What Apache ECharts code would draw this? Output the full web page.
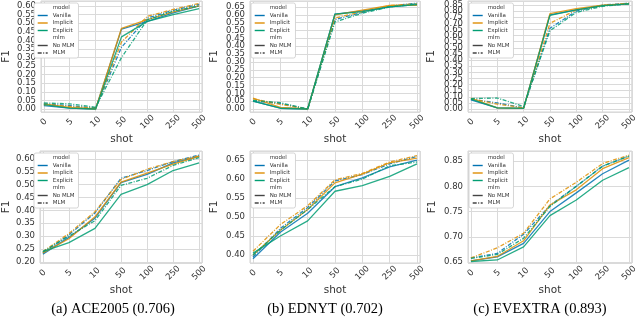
<!DOCTYPE html>
<html>
<head>
<meta charset="utf-8">
<script src="https://cdn.jsdelivr.net/npm/echarts@6/dist/echarts.min.js"></script>
<style>
  html, body { margin: 0; padding: 0; background: #fff; }
  #chart { width: 640px; height: 320px; }
</style>
</head>
<body>
<div id="chart"></div>
<script>
var shots = ['0', '5', '10', '50', '100', '250', '500'];
var models = ['Vanilla', 'Implicit', 'Explicit'];
var mlms = ['No MLM', 'MLM'];
var captions = ['(a) ACE2005 (0.706)', '(b) EDNYT (0.702)', '(c) EVEXTRA (0.893)'];

// rows: Vanilla/No MLM, Vanilla/MLM, Implicit/No MLM, Implicit/MLM, Explicit/No MLM, Explicit/MLM
var aceTop = [
  [0.020, 0.005, 0.000, 0.465, 0.510, 0.560, 0.600],
  [0.030, 0.020, 0.005, 0.360, 0.530, 0.575, 0.610],
  [0.030, 0.010, 0.000, 0.470, 0.520, 0.565, 0.600],
  [0.025, 0.015, 0.005, 0.390, 0.540, 0.580, 0.615],
  [0.025, 0.005, 0.000, 0.420, 0.510, 0.550, 0.585],
  [0.035, 0.030, 0.010, 0.300, 0.520, 0.570, 0.600]
];
var ednytTop = [
  [0.050, 0.005, 0.000, 0.605, 0.625, 0.650, 0.665],
  [0.050, 0.035, 0.000, 0.570, 0.615, 0.655, 0.675],
  [0.070, 0.010, 0.000, 0.600, 0.630, 0.660, 0.660],
  [0.065, 0.030, 0.000, 0.580, 0.620, 0.660, 0.670],
  [0.050, 0.005, 0.000, 0.605, 0.620, 0.650, 0.665],
  [0.055, 0.040, 0.000, 0.555, 0.610, 0.650, 0.670]
];
var evextraTop = [
  [0.075, 0.010, 0.005, 0.770, 0.810, 0.845, 0.860],
  [0.080, 0.050, 0.010, 0.660, 0.800, 0.850, 0.865],
  [0.090, 0.010, 0.005, 0.780, 0.820, 0.850, 0.860],
  [0.085, 0.040, 0.010, 0.700, 0.810, 0.845, 0.865],
  [0.080, 0.010, 0.005, 0.765, 0.810, 0.845, 0.860],
  [0.085, 0.090, 0.020, 0.640, 0.790, 0.840, 0.860]
];
var aceBottom = [
  [0.230, 0.295, 0.370, 0.508, 0.540, 0.585, 0.610],
  [0.235, 0.305, 0.390, 0.525, 0.555, 0.590, 0.615],
  [0.235, 0.290, 0.375, 0.510, 0.545, 0.580, 0.610],
  [0.240, 0.310, 0.395, 0.520, 0.560, 0.590, 0.612],
  [0.240, 0.275, 0.330, 0.462, 0.500, 0.555, 0.585],
  [0.240, 0.300, 0.360, 0.497, 0.525, 0.575, 0.605]
];
var ednytBottom = [
  [0.390, 0.460, 0.510, 0.580, 0.603, 0.632, 0.650],
  [0.395, 0.470, 0.525, 0.595, 0.612, 0.640, 0.660],
  [0.400, 0.465, 0.520, 0.590, 0.613, 0.643, 0.655],
  [0.410, 0.480, 0.530, 0.598, 0.615, 0.645, 0.662],
  [0.405, 0.450, 0.490, 0.568, 0.583, 0.607, 0.640],
  [0.400, 0.465, 0.520, 0.580, 0.600, 0.635, 0.645]
];
var evextraBottom = [
  [0.652, 0.660, 0.687, 0.750, 0.787, 0.825, 0.852],
  [0.658, 0.667, 0.705, 0.762, 0.800, 0.840, 0.860],
  [0.652, 0.661, 0.692, 0.763, 0.793, 0.835, 0.857],
  [0.658, 0.678, 0.707, 0.775, 0.808, 0.845, 0.862],
  [0.651, 0.654, 0.680, 0.742, 0.773, 0.812, 0.837],
  [0.657, 0.665, 0.697, 0.760, 0.800, 0.840, 0.860]
];

var colors = { Vanilla: '#0173b2', Implicit: '#de8f05', Explicit: '#029e73' };
var dashDot = [4, 1.5, 1, 1.5];
var font = 'DejaVu Sans';
var textColor = '#333';

var panels = [
  { rows: aceTop, left: 33, top: 1, width: 169, height: 111, min: -0.0175, max: 0.629, nameGap: 29 },
  { rows: ednytTop, left: 250, top: 1, width: 170, height: 111, min: -0.019, max: 0.688, nameGap: 30 },
  { rows: evextraTop, left: 468, top: 1, width: 170, height: 111, min: -0.0245, max: 0.883, nameGap: 31 },
  { rows: aceBottom, left: 33, top: 151, width: 169, height: 112, min: 0.1955, max: 0.631, nameGap: 28 },
  { rows: ednytBottom, left: 250, top: 151, width: 170, height: 112, min: 0.379, max: 0.674, nameGap: 30 },
  { rows: evextraBottom, left: 468, top: 151, width: 170, height: 112, min: 0.648, max: 0.87, nameGap: 30 }
];

function onStep (v, step) {
  return Math.abs(v / step - Math.round(v / step)) < 1e-6;
}

var chart = echarts.init(document.getElementById('chart'));
var grids = [], xAxes = [], yAxes = [], series = [], legends = [];

panels.forEach(function (p, k) {
  grids.push({
    left: p.left, top: p.top, width: p.width, height: p.height,
    show: true, borderColor: '#d2d2d2', borderWidth: 1
  });
  xAxes.push({
    type: 'value', gridIndex: k,
    min: -0.11, max: shots.length - 1 + 0.11, minInterval: 1, maxInterval: 1,
    name: 'shot', nameLocation: 'middle', nameGap: 21,
    nameTextStyle: { fontFamily: font, fontSize: 10.5, color: textColor },
    axisLine: { show: false }, axisTick: { show: false },
    splitLine: { lineStyle: { color: '#dadada', width: 1 } },
    axisLabel: {
      rotate: 45, align: 'center', verticalAlign: 'middle', margin: 10,
      fontFamily: font, fontSize: 8.5, color: textColor,
      formatter: function (v) {
        return onStep(v, 1) ? shots[Math.round(v)] : '';
      }
    }
  });
  yAxes.push({
    type: 'value', gridIndex: k,
    min: p.min, max: p.max, minInterval: 0.05, maxInterval: 0.05,
    name: 'F1', nameLocation: 'middle', nameGap: p.nameGap, nameRotate: 90,
    nameTextStyle: { fontFamily: font, fontSize: 10.5, color: textColor },
    axisLine: { show: false }, axisTick: { show: false },
    splitLine: { lineStyle: { color: '#dadada', width: 1 } },
    axisLabel: {
      margin: 5, fontFamily: font, fontSize: 8.5, color: textColor,
      formatter: function (v) {
        return onStep(v, 0.05) ? v.toFixed(2) : '';
      }
    }
  });
  models.forEach(function (m, mi) {
    mlms.forEach(function (d, di) {
      var vals = p.rows[mi * 2 + di];
      series.push({
        name: m + ' / ' + d,
        type: 'line', xAxisIndex: k, yAxisIndex: k,
        symbol: 'none', silent: true,
        data: vals.map(function (v, j) { return [j, v]; }),
        lineStyle: { color: colors[m], width: 1.3, opacity: 0.85, type: di === 1 ? dashDot : 'solid' },
        itemStyle: { color: colors[m] }
      });
    });
  });
  legends.push({
    orient: 'vertical', left: p.left + 1, top: p.top + 2,
    data: [{ name: 'model', icon: 'none' }, 'Vanilla', 'Implicit', 'Explicit',
      { name: 'mlm', icon: 'none' }, 'No MLM', 'MLM'],
    itemWidth: 10, itemHeight: 4, itemGap: 1.5,
    selectedMode: false,
    itemStyle: { opacity: 0 },
    lineStyle: { width: 1.4 },
    textStyle: { fontFamily: font, fontSize: 5.5, color: textColor },
    backgroundColor: '#fff', borderColor: '#cccccc', borderWidth: 0.8, borderRadius: 2,
    padding: [2, 4, 2, 3]
  });
});

// legend-only entries
var legendEntries = [
  { name: 'model', color: 'rgba(0,0,0,0)', type: 'solid' },
  { name: 'Vanilla', color: colors.Vanilla, type: 'solid' },
  { name: 'Implicit', color: colors.Implicit, type: 'solid' },
  { name: 'Explicit', color: colors.Explicit, type: 'solid' },
  { name: 'mlm', color: 'rgba(0,0,0,0)', type: 'solid' },
  { name: 'No MLM', color: '#444', type: 'solid' },
  { name: 'MLM', color: '#444', type: dashDot }
];
legendEntries.forEach(function (e) {
  series.push({
    name: e.name, type: 'line', xAxisIndex: 0, yAxisIndex: 0,
    symbol: 'none', showSymbol: false, data: [],
    lineStyle: { color: e.color, width: 1.4, type: e.type },
    itemStyle: { color: e.color }
  });
});

var titles = captions.map(function (c, i) {
  return {
    text: c, left: [108, 320, 535][i], top: 297, textAlign: 'center',
    textStyle: { fontFamily: 'Liberation Serif', fontSize: 14.5, fontWeight: 'normal', color: '#000' }
  };
});

chart.setOption({
  animation: false,
  title: titles,
  grid: grids,
  xAxis: xAxes,
  yAxis: yAxes,
  legend: legends,
  series: series
});
</script>
</body>
</html>
